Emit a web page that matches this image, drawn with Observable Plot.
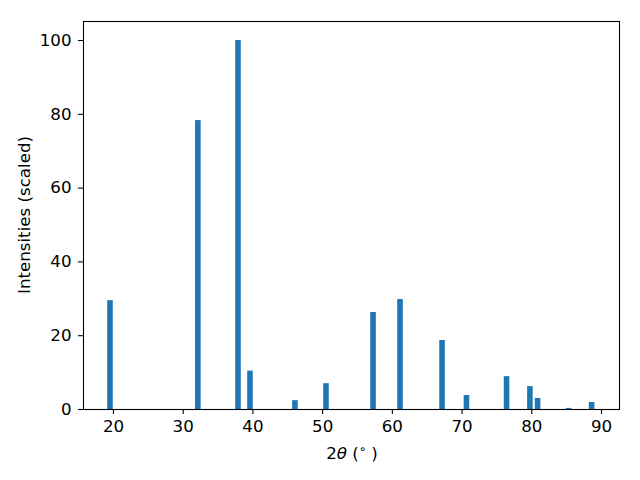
<!DOCTYPE html>
<html>
<head>
<meta charset="utf-8">
<script src="https://cdn.jsdelivr.net/npm/d3@7"></script>
<script src="https://cdn.jsdelivr.net/npm/@observablehq/plot@0.6"></script>
<style>
  html, body { margin: 0; padding: 0; background: #fff; }
  #chart svg { display: block; }
</style>
</head>
<body>
<div id="chart"></div>
<script>
// Peak positions (2θ, degrees) and scaled intensities
const twoTheta = [19.57, 32.17, 37.93, 39.65, 46.1, 50.55, 57.3, 61.17, 67.2, 70.7, 76.45, 79.8, 80.9, 85.35, 88.65];
const intensity = [29.5, 78.3, 100, 10.4, 2.4, 7.0, 26.3, 29.8, 18.7, 3.8, 8.9, 6.2, 3.0, 0.3, 1.9];
const xTicks = [20, 30, 40, 50, 60, 70, 80, 90];
const yTicks = [0, 20, 40, 60, 80, 100];
const barWidth = 0.8;

const data = twoTheta.map((x, i) => ({x, y: intensity[i]}));

const font = "DejaVu Sans, sans-serif";
const fs = 16.67;

const svg = Plot.plot({
  width: 640,
  height: 480,
  marginLeft: 83,
  marginRight: 21,
  marginTop: 21,
  marginBottom: 71,
  style: {fontFamily: font, fontSize: fs + "px", background: "#fff", color: "#000"},
  x: {domain: [15.7, 92.58]},
  y: {domain: [0, 105.15]},
  marks: [
    Plot.rectY(data, {x1: d => d.x - barWidth / 2, x2: d => d.x + barWidth / 2, y1: 0, y2: "y", fill: "#1f77b4", insetLeft: 0, insetRight: 0}),
    Plot.axisX({ticks: xTicks, tickSize: 5, tickPadding: 6, label: null, fontSize: fs, stroke: "#000", strokeWidth: 1.1}),
    Plot.axisY({ticks: yTicks, tickSize: 5, tickPadding: 7, label: null, fontSize: fs, stroke: "#000", strokeWidth: 1.1}),
    Plot.frame({stroke: "#000", strokeWidth: 1.1})
  ]
});

const s = d3.select(svg);
// x label: 2θ (°)
const xl = s.append("text")
  .attr("x", 352)
  .attr("y", 459)
  .attr("text-anchor", "middle")
  .attr("font-family", font)
  .attr("font-size", fs)
  .attr("fill", "#000");
xl.append("tspan").text("2");
xl.append("tspan").attr("font-style", "italic").text("θ");
xl.append("tspan").text(" (");
xl.append("tspan").attr("font-size", fs * 0.7).attr("dy", -6).text("∘");
xl.append("tspan").attr("dy", 6).text(" )");

// y label
s.append("text")
  .attr("transform", "translate(30,215) rotate(-90)")
  .attr("text-anchor", "middle")
  .attr("font-family", font)
  .attr("font-size", fs)
  .attr("fill", "#000")
  .text("Intensities (scaled)");

document.getElementById("chart").appendChild(svg);
</script>
</body>
</html>
